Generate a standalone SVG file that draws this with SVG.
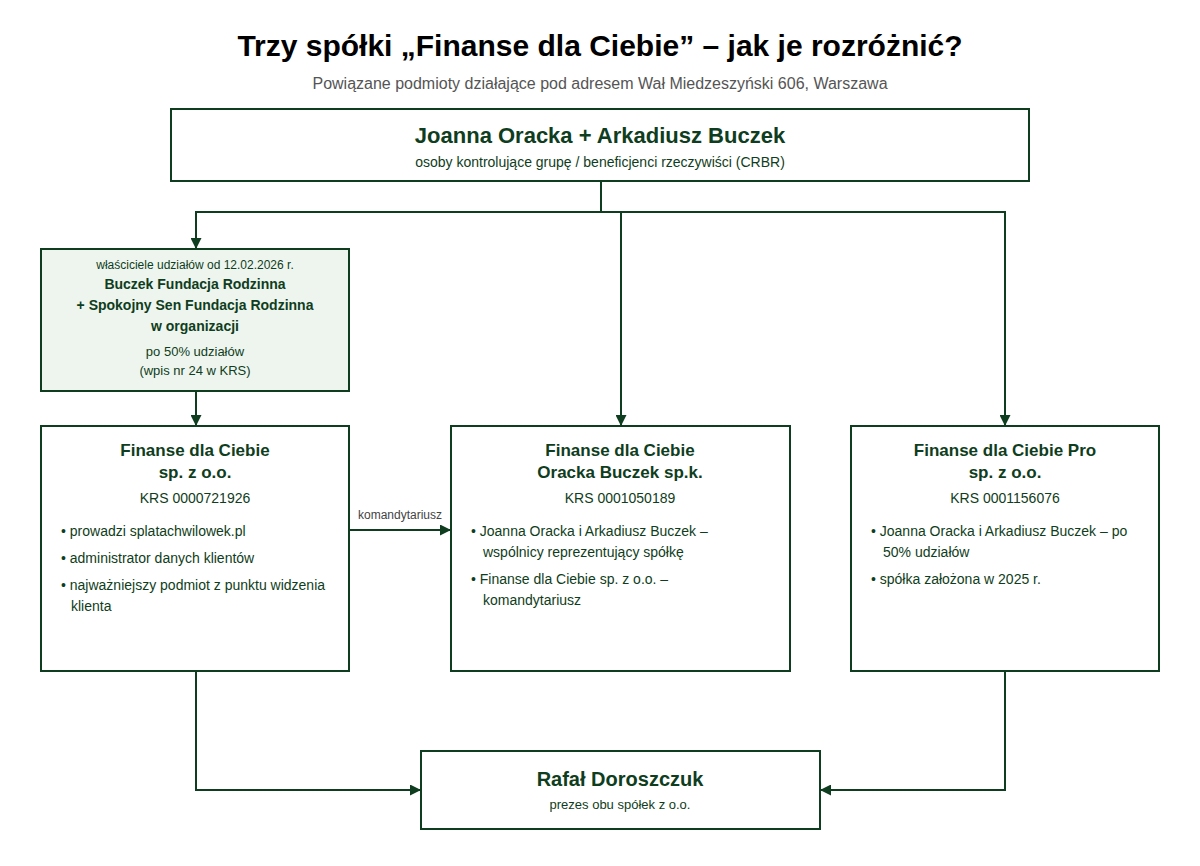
<svg xmlns="http://www.w3.org/2000/svg" width="1200" height="866" viewBox="0 0 1200 866">
<style>
text{font-family:"Liberation Sans",Arial,sans-serif;fill:#0f3d20}
.box{fill:#fff;stroke:#0f3d20;stroke-width:2}
.own{fill:#eef5ef;stroke:#0f3d20;stroke-width:2}
.h{font-weight:bold;font-size:17px;text-anchor:middle}
.c{text-anchor:middle;font-size:14px}
.s{font-size:14px}
.line{fill:none;stroke:#0f3d20;stroke-width:2}
</style>
<defs><marker id="a" viewBox="0 0 10 10" refX="10" refY="5" markerWidth="6" markerHeight="6" orient="auto" markerUnits="userSpaceOnUse"><path d="M0,0L10,5L0,10z" fill="#0f3d20"/></marker>
<marker id="b" viewBox="0 0 10 10" refX="10" refY="5" markerWidth="11" markerHeight="11" orient="auto" markerUnits="userSpaceOnUse"><path d="M0,0L10,5L0,10z" fill="#0f3d20"/></marker></defs>
<rect width="1200" height="866" fill="#fff"/>
<text x="600" y="56" text-anchor="middle" font-size="30" font-weight="bold" style="fill:#000">Trzy spółki „Finanse dla Ciebie” – jak je rozróżnić?</text>
<text x="600" y="89" text-anchor="middle" font-size="16" style="fill:#555">Powiązane podmioty działające pod adresem Wał Miedzeszyński 606, Warszawa</text>
<g id="connectors">
<path class="line" d="M601,181V212H196V249" marker-end="url(#b)"/>
<path class="line" d="M621,212V426" marker-end="url(#b)"/>
<path class="line" d="M601,212H1005V426" marker-end="url(#b)"/>
<path class="line" d="M196,391V426" marker-end="url(#b)"/>
<path class="line" d="M349,530H451" marker-end="url(#b)"/>
<text x="400" y="519" text-anchor="middle" font-size="12" style="fill:#444">komandytariusz</text>
<path class="line" d="M196,671V790H421" marker-end="url(#b)"/>
<path class="line" d="M1005,671V790H820" marker-end="url(#b)"/>
</g>
<g id="top"><rect class="box" x="171" y="109" width="858" height="72"/>
<text x="600" y="143" text-anchor="middle" font-size="22" font-weight="bold">Joanna Oracka + Arkadiusz Buczek</text>
<text x="600" y="167" class="c">osoby kontrolujące grupę / beneficjenci rzeczywiści (CRBR)</text></g>
<g id="owners"><rect class="own" x="41" y="249" width="308" height="142"/>
<text x="195" y="269" text-anchor="middle" font-size="12">właściciele udziałów od 12.02.2026 r.</text>
<text x="195" y="289" text-anchor="middle" font-size="14" font-weight="bold">Buczek Fundacja Rodzinna</text>
<text x="195" y="310" text-anchor="middle" font-size="14" font-weight="bold">+ Spokojny Sen Fundacja Rodzinna</text>
<text x="195" y="331" text-anchor="middle" font-size="14" font-weight="bold">w organizacji</text>
<text x="195" y="356" text-anchor="middle" font-size="13">po 50% udziałów</text>
<text x="195" y="375" text-anchor="middle" font-size="13">(wpis nr 24 w KRS)</text></g>
<g id="fdc"><rect class="box" x="41" y="426" width="308" height="245"/>
<text x="195" y="456" class="h">Finanse dla Ciebie</text>
<text x="195" y="478" class="h">sp. z o.o.</text>
<text x="195" y="503" class="c">KRS 0000721926</text>
<text x="61" y="536" class="s">• prowadzi splatachwilowek.pl</text>
<text x="61" y="563" class="s">• administrator danych klientów</text>
<text x="61" y="590" class="s">• najważniejszy podmiot z punktu widzenia</text>
<text x="71" y="611" class="s">klienta</text></g>
<g id="spk"><rect class="box" x="451" y="426" width="339" height="245"/>
<text x="620" y="456" class="h">Finanse dla Ciebie</text>
<text x="620" y="478" class="h">Oracka Buczek sp.k.</text>
<text x="620" y="503" class="c">KRS 0001050189</text>
<text x="471" y="536" class="s">• Joanna Oracka i Arkadiusz Buczek –</text>
<text x="483" y="557" class="s">wspólnicy reprezentujący spółkę</text>
<text x="471" y="584" class="s">• Finanse dla Ciebie sp. z o.o. –</text>
<text x="483" y="605" class="s">komandytariusz</text></g>
<g id="pro"><rect class="box" x="851" y="426" width="308" height="245"/>
<text x="1005" y="456" class="h">Finanse dla Ciebie Pro</text>
<text x="1005" y="478" class="h">sp. z o.o.</text>
<text x="1005" y="503" class="c">KRS 0001156076</text>
<text x="871" y="536" class="s">• Joanna Oracka i Arkadiusz Buczek – po</text>
<text x="883" y="557" class="s">50% udziałów</text>
<text x="871" y="584" class="s">• spółka założona w 2025 r.</text></g>
<g id="prezes"><rect class="box" x="421" y="751" width="399" height="78"/>
<text x="620" y="786" text-anchor="middle" font-size="20" font-weight="bold">Rafał Doroszczuk</text>
<text x="620" y="809" class="c" font-size="13" style="font-size:13px">prezes obu spółek z o.o.</text></g>
</svg>
